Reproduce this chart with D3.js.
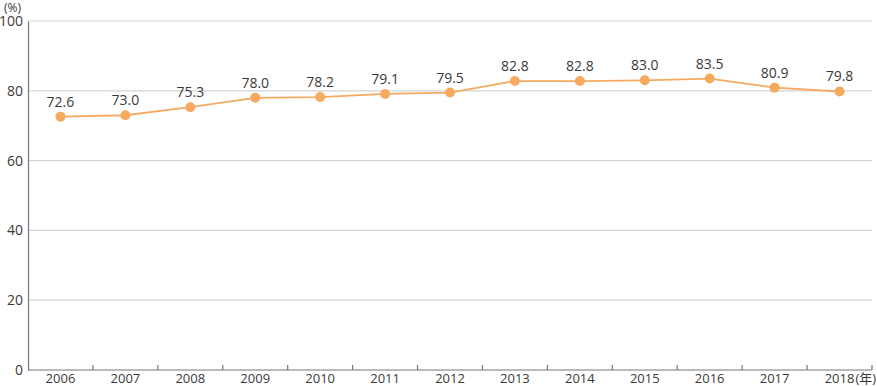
<!DOCTYPE html>
<html>
<head>
<meta charset="utf-8">
<script src="https://cdn.jsdelivr.net/npm/d3@7"></script>
<style>
  body { margin: 0; background: #fff; }
  text { font-family: "Open Sans", "Noto Sans CJK JP", sans-serif; fill: #3a3a3a; }
</style>
</head>
<body>
<div id="chart"></div>
<script>
'use strict';

const years = ['2006', '2007', '2008', '2009', '2010', '2011', '2012', '2013', '2014', '2015', '2016', '2017', '2018']
const values = [72.6, 73.0, 75.3, 78.0, 78.2, 79.1, 79.5, 82.8, 82.8, 83.0, 83.5, 80.9, 79.8]
const yTicks = [0, 20, 40, 60, 80, 100]

let margin = { top: 21, right: 5, bottom: 16, left: 28 },
    width = 877 - margin.left - margin.right,
    height = 386 - margin.top - margin.bottom;

let svg = d3.select('#chart')
    .append('svg')
    .attr('width', 877)
    .attr('height', 386)
    .append('g')
    .attr('transform', `translate(${margin.left}, ${margin.top})`);

let xScale = d3.scaleBand()
    .domain(years)
    .range([0, width])

let yScale = d3.scaleLinear()
    .domain([0, 100])
    .range([height, 0])

// gridlines
svg.append('g')
    .selectAll('line')
    .data(yTicks.filter(d => d > 0))
    .join('line')
    .attr('x1', 0)
    .attr('x2', width)
    .attr('y1', d => yScale(d))
    .attr('y2', d => yScale(d))
    .attr('stroke', '#d4d4d4')
    .attr('stroke-width', 1.2)

// y axis
let yAxis = svg.append('g')
    .call(d3.axisLeft(yScale).tickValues(yTicks).tickSize(0).tickPadding(5))
yAxis.select('.domain').attr('stroke', '#777').attr('stroke-width', 1.2)
yAxis.selectAll('text').style('font-size', '14px').attr('fill', '#3a3a3a')

svg.append('text')
    .attr('x', -24)
    .attr('y', -9)
    .style('font-size', '12px')
    .text('(%)')

// x axis with ticks at band boundaries
let xAxis = svg.append('g')
    .attr('transform', `translate(0, ${height})`)
xAxis.append('line')
    .attr('x1', 0).attr('x2', width)
    .attr('stroke', '#777').attr('stroke-width', 1.2)
xAxis.selectAll('.tick')
    .data(years)
    .join('line')
    .attr('x1', d => xScale(d) + xScale.bandwidth())
    .attr('x2', d => xScale(d) + xScale.bandwidth())
    .attr('y1', 0).attr('y2', -5)
    .attr('stroke', '#777').attr('stroke-width', 1.2)
xAxis.selectAll('.lbl')
    .data(years)
    .join('text')
    .attr('x', d => xScale(d) + xScale.bandwidth() / 2)
    .attr('y', 13)
    .attr('text-anchor', 'middle')
    .style('font-size', '13px')
    .text(d => d)
xAxis.append('text')
    .attr('x', xScale('2018') + xScale.bandwidth() / 2 + 16)
    .attr('y', 13)
    .style('font-size', '13px')
    .text('(年)')

// line
let cx = d => xScale(d) + xScale.bandwidth() / 2
svg.append('path')
    .datum(values)
    .attr('fill', 'none')
    .attr('stroke', '#f5aa60')
    .attr('stroke-width', 1.8)
    .attr('d', d3.line()
        .x((d, i) => cx(years[i]))
        .y(d => yScale(d)))

svg.append('g')
    .selectAll('circle')
    .data(values)
    .join('circle')
    .attr('cx', (d, i) => cx(years[i]))
    .attr('cy', d => yScale(d))
    .attr('r', 5)
    .attr('fill', '#f5aa60')

svg.append('g')
    .selectAll('text')
    .data(values)
    .join('text')
    .attr('x', (d, i) => cx(years[i]))
    .attr('y', d => yScale(d) - 10)
    .attr('text-anchor', 'middle')
    .style('font-size', '14px')
    .text(d => d.toFixed(1))
</script>
</body>
</html>
